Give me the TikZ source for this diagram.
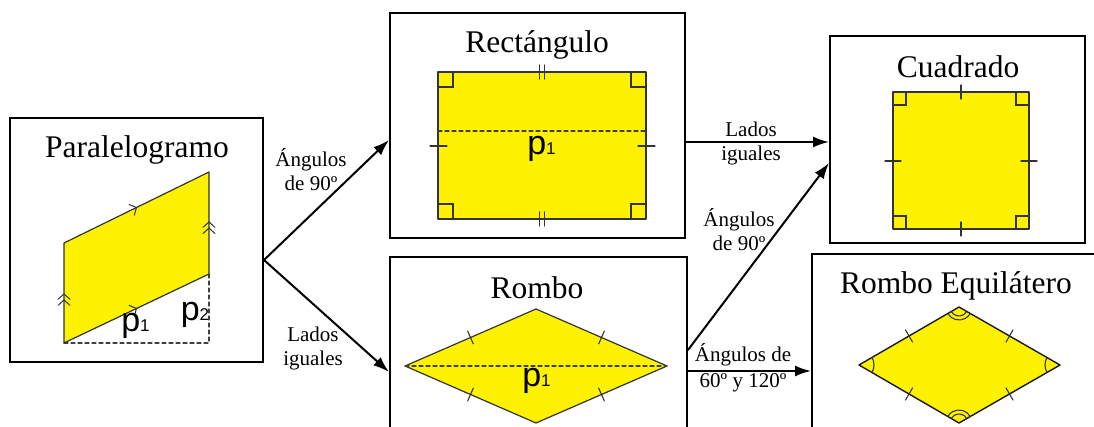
\documentclass[tikz,border=0pt]{standalone}
\usepackage{fontspec}
\setmainfont{Liberation Serif}
\newfontfamily\pfont{Liberation Sans}
\usetikzlibrary{arrows.meta,calc}
\tikzset{
  marco/.style={draw,line width=2pt,inner sep=0pt},
  figura/.style={fill=yellow,draw=black!80,line width=1.2pt,line join=round},
  marca/.style={draw=black!80,line width=1.1pt},
  guia/.style={draw=black!75,line width=1.1pt,dash pattern=on 4pt off 3pt},
  flecha/.style={line width=2pt,-{Latex[length=16pt,width=11pt]}},
  titulo/.style={font=\fontsize{31.5}{36}\selectfont,inner sep=0pt},
  etiqueta/.style={font=\fontsize{21}{24}\selectfont,align=center,inner sep=1pt},
}
\newcommand{\pp}[1]{{\pfont\fontsize{34}{34}\selectfont p{\fontsize{17}{17}\selectfont #1}}}
\begin{document}
\begin{tikzpicture}[x=1pt,y=1pt,line cap=round]
  \useasboundingbox (0,0) rectangle (1094,427);
  \clip (0,0) rectangle (1094,427);
  % marcos
  \node[marco,minimum width=253pt,minimum height=244pt] (para) at (136.5,187) {};
  \node[marco,minimum width=295pt,minimum height=225pt] (rect) at (537.5,301.5) {};
  \node[marco,minimum width=297pt,minimum height=225pt] (rombo) at (538.5,57.5) {};
  \node[marco,minimum width=255pt,minimum height=207pt] (cuad) at (957.5,287.5) {};
  \node[marco,minimum width=308pt,minimum height=226pt] (equi) at (966,60) {};
  \node[titulo] (tpara) at (137,277) {Paralelogramo};
  \node[titulo] (trect) at (537,382) {Rectángulo};
  \node[titulo] (trombo) at (537,139) {Rombo};
  \node[titulo] (tcuad) at (958,360) {Cuadrado};
  \node[titulo] (tequi) at (956,141) {Rombo Equilátero};

  % paralelogramo
  \coordinate (A) at (64,84);
  \coordinate (B) at (209,153);
  \coordinate (C) at (209,255);
  \coordinate (D) at (64,184);
  \coordinate (E) at (209,84);
  \draw[guia] (A) -- (E) -- (B);
  \draw[figura] (A) -- (B) -- (C) -- (D) -- cycle;
  \foreach \s/\e/\t in {A/B/0.5,D/C/0.5,A/D/0.43,A/D/0.49,B/C/0.45,B/C/0.51}
    \draw[marca,line width=1pt] ($(\s)!\t!(\e)!8pt!48:(\s)$) -- ($(\s)!\t!(\e)$) -- ($(\s)!\t!(\e)!8pt!-48:(\s)$);
  \node (p1a) at (135.5,101) {\pp1};
  \node (p2a) at (195,112.5) {\pp2};

  % rectangulo
  \draw[figura] (438,208) rectangle (646,355);
  \draw[guia] (438,296) -- (646,296);
  \foreach \x/\y/\sx/\sy in {438/208/1/1,646/208/-1/1,438/355/1/-1,646/355/-1/-1}
    \draw[marca] (\x,\y+\sy*15) -| (\x+\sx*15,\y);
  \foreach \x in {539.5,544.5} {
    \draw[marca] (\x,348) -- (\x,362);
    \draw[marca] (\x,201) -- (\x,215);
  }
  \draw[marca] (430,281) -- (447,281);
  \draw[marca] (638,281) -- (655,281);
  \node (p1b) at (541.5,278.5) {\pp1};

  % cuadrado
  \draw[figura] (893,198) rectangle (1029,335);
  \foreach \x/\y/\sx/\sy in {893/198/1/1,1029/198/-1/1,893/335/1/-1,1029/335/-1/-1}
    \draw[marca] (\x,\y+\sy*13) -| (\x+\sx*13,\y);
  \draw[marca] (961,328) -- (961,342);
  \draw[marca] (961,191) -- (961,205);
  \draw[marca] (885,266) -- (901,266);
  \draw[marca] (1021,266) -- (1037,266);

  % rombo
  \coordinate (L) at (405,61);
  \coordinate (T) at (536,118);
  \coordinate (R) at (667,61);
  \coordinate (U) at (536,4);
  \draw[figura] (L) -- (T) -- (R) -- (U) -- cycle;
  \draw[guia] (L) -- (R);
  \foreach \a/\b in {L/T,T/R,R/U,U/L}
    \draw[marca] ($(\a)!0.5!(\b)!7pt!90:(\b)$) -- ($(\a)!0.5!(\b)!7pt!-90:(\b)$);
  \node (p1c) at (536.5,46.5) {\pp1};

  % rombo equilatero
  \coordinate (EL) at (859,62);
  \coordinate (ET) at (959,120);
  \coordinate (ER) at (1060,62);
  \coordinate (EU) at (959,4);
  \draw[figura,draw=black!90,line width=1.4pt] (EL) -- (ET) -- (ER) -- (EU) -- cycle;
  \foreach \a/\b in {EL/ET,ET/ER,ER/EU,EU/EL}
    \draw[marca] ($(\a)!0.5!(\b)!7pt!90:(\b)$) -- ($(\a)!0.5!(\b)!7pt!-90:(\b)$);
  \draw[marca] ([shift={(-30:15)}]EL) arc[start angle=-30,end angle=30,radius=15];
  \draw[marca] ([shift={(150:15)}]ER) arc[start angle=150,end angle=210,radius=15];
  \foreach \r in {9,13} {
    \draw[marca] ([shift={(210:\r)}]ET) arc[start angle=210,end angle=330,radius=\r];
    \draw[marca] ([shift={(30:\r)}]EU) arc[start angle=30,end angle=150,radius=\r];
  }

  % flechas
  \draw[flecha] ([yshift=-20pt]para.east) -- ([yshift=-14.5pt]rect.west);
  \draw[flecha] ([yshift=-20pt]para.east) -- ([yshift=-2.5pt]rombo.west);
  \draw[flecha] ([yshift=-16.5pt]rect.east) -- ([yshift=-2.5pt]cuad.west);
  \draw[flecha] ([yshift=19.5pt]rombo.east) -- ([yshift=-23.5pt]cuad.west);
  \draw[flecha] ([yshift=-1.5pt]rombo.east) -- ([yshift=-4pt]equi.west);
  \node[etiqueta] (e1) at (311,257) {Ángulos\\de 90º};
  \node[etiqueta] (e2) at (313,79) {Lados\\iguales};
  \node[etiqueta] (e3) at (751,284) {Lados\\iguales};
  \node[etiqueta] (e4) at (739,197) {Ángulos\\de 90º};
  \node[etiqueta,font=\fontsize{21}{26}\selectfont] (e5) at (743,59) {Ángulos de\\60º y 120º};
\end{tikzpicture}
\end{document}
